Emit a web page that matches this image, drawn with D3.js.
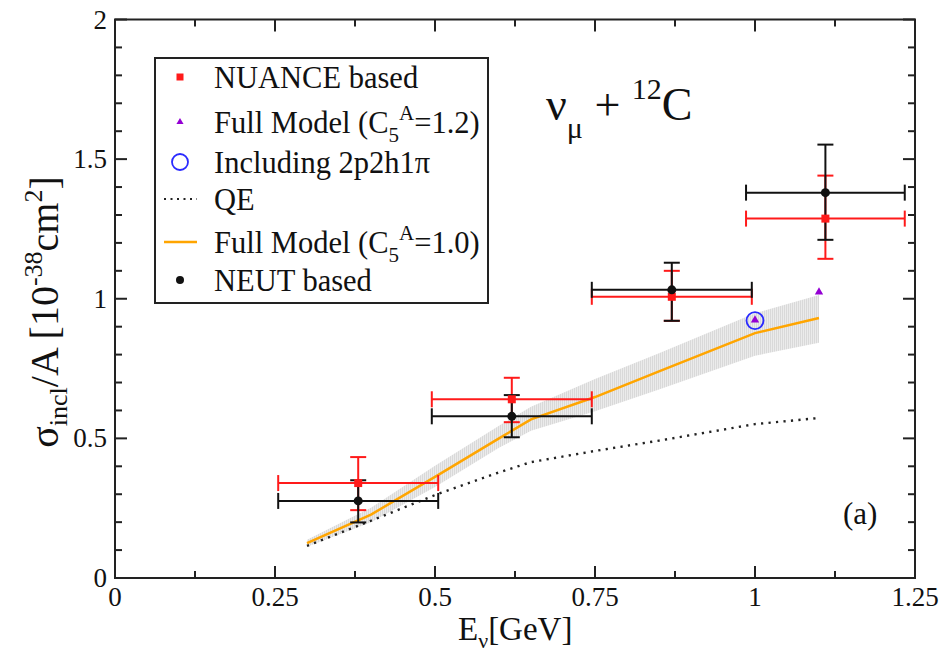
<!DOCTYPE html>
<html>
<head>
<meta charset="utf-8">
<script src="https://cdn.jsdelivr.net/npm/d3@7"></script>
<style>
  html, body { margin: 0; padding: 0; background: #fff; }
  svg text { font-family: "Liberation Serif", "Times New Roman", serif; fill: #111; }
</style>
</head>
<body>
<svg id="chart" width="948" height="656" font-family="Liberation Serif"></svg>
<script>
// Energy bins (GeV) of the flux-averaged measurements
const binCenter = [0.38, 0.62, 0.87, 1.11];
const binLow    = [0.255, 0.495, 0.745, 0.986];
const binHigh   = [0.505, 0.745, 0.995, 1.234];

// NUANCE based extraction: value and error range
const nuance    = [0.34, 0.64, 1.007, 1.287];
const nuanceLo  = [0.243, 0.558, 0.921, 1.143];
const nuanceHi  = [0.433, 0.717, 1.10, 1.441];

// NEUT based extraction: value and error range
const neut      = [0.276, 0.579, 1.032, 1.38];
const neutLo    = [0.199, 0.504, 0.921, 1.211];
const neutHi    = [0.35, 0.655, 1.129, 1.552];

// Model curves
const modelE    = [0.3, 0.4, 0.5, 0.6, 0.65, 0.75, 0.85, 1.0, 1.1];
const fullModel = [0.125, 0.227, 0.362, 0.5, 0.568, 0.648, 0.74, 0.877, 0.931];
const bandLow   = [0.112, 0.2, 0.326, 0.466, 0.527, 0.597, 0.675, 0.796, 0.842];
const bandHigh  = [0.137, 0.252, 0.402, 0.545, 0.613, 0.713, 0.805, 0.948, 1.013];
const qe        = [0.115, 0.205, 0.297, 0.378, 0.415, 0.455, 0.492, 0.551, 0.573];

// Full model with C5A = 1.2 and the 2p2h1pi point
const c5aE      = [1.0, 1.1];
const c5a12     = [0.924, 1.024];
const twoP2hE   = [1.0];
const twoP2h    = [0.922];

// Axis ticks
const xMajor = [0, 0.25, 0.5, 0.75, 1, 1.25];
const xMinor = [0.125, 0.375, 0.625, 0.875, 1.125];
const xTickLabels = ["0", "0.25", "0.5", "0.75", "1", "1.25"];
const yMajor = [0, 0.5, 1, 1.5, 2];
const yMinor = [0.1, 0.2, 0.3, 0.4, 0.6, 0.7, 0.8, 0.9, 1.1, 1.2, 1.3, 1.4, 1.6, 1.7, 1.8, 1.9];
const yTickLabels = ["0", "0.5", "1", "1.5", "2"];

const RED = "#ff1a1a", BLACK = "#111", ORANGE = "#ffa500", PURPLE = "#9400d3", BLUE = "#2a2aff";

const svg = d3.select("#chart");
const L = 115, R = 915, T = 19.5, B = 578;
const x = d3.scaleLinear([0, 1.25], [L, R]);
const y = d3.scaleLinear([0, 2], [B, T]);

// Band texture: fine vertical hatching
const defs = svg.append("defs");
const pat = defs.append("pattern").attr("id", "hatch").attr("patternUnits", "userSpaceOnUse")
  .attr("width", 2).attr("height", 4);
pat.append("rect").attr("width", 2).attr("height", 4).attr("fill", "#ebebeb");
pat.append("rect").attr("width", 1).attr("height", 4).attr("fill", "#d9d9d9");

const plot = svg.append("g");

// Uncertainty band of the full model
const band = modelE.map((e, i) => ({ e, lo: bandLow[i], hi: bandHigh[i] }));
plot.append("path").datum(band)
  .attr("d", d3.area().x(d => x(d.e)).y0(d => y(d.lo)).y1(d => y(d.hi)))
  .attr("fill", "url(#hatch)");

// QE curve (dotted)
plot.append("path").datum(modelE.map((e, i) => [e, qe[i]]))
  .attr("d", d3.line().x(d => x(d[0])).y(d => y(d[1])))
  .attr("fill", "none").attr("stroke", "#222").attr("stroke-width", 2.4)
  .attr("stroke-dasharray", "2.2,5.3");

// Full model curve
plot.append("path").datum(modelE.map((e, i) => [e, fullModel[i]]))
  .attr("d", d3.line().x(d => x(d[0])).y(d => y(d[1])))
  .attr("fill", "none").attr("stroke", ORANGE).attr("stroke-width", 2.5);

// Error bars with caps
function errorBars(vals, lo, hi, color) {
  const g = plot.append("g").attr("stroke", color).attr("stroke-width", 2).attr("fill", "none");
  const cap = 8;
  binCenter.forEach((c, i) => {
    const cx = x(c), cy = y(vals[i]);
    g.append("line").attr("x1", x(binLow[i])).attr("x2", x(binHigh[i])).attr("y1", cy).attr("y2", cy);
    g.append("line").attr("x1", x(binLow[i])).attr("x2", x(binLow[i])).attr("y1", cy - cap).attr("y2", cy + cap);
    g.append("line").attr("x1", x(binHigh[i])).attr("x2", x(binHigh[i])).attr("y1", cy - cap).attr("y2", cy + cap);
    g.append("line").attr("x1", cx).attr("x2", cx).attr("y1", y(lo[i])).attr("y2", y(hi[i]));
    g.append("line").attr("x1", cx - cap).attr("x2", cx + cap).attr("y1", y(lo[i])).attr("y2", y(lo[i]));
    g.append("line").attr("x1", cx - cap).attr("x2", cx + cap).attr("y1", y(hi[i])).attr("y2", y(hi[i]));
  });
}
errorBars(nuance, nuanceLo, nuanceHi, RED);
errorBars(neut, neutLo, neutHi, BLACK);

plot.selectAll(".nuance").data(binCenter).join("rect")
  .attr("x", (d) => x(d) - 4).attr("y", (d, i) => y(nuance[i]) - 4)
  .attr("width", 8).attr("height", 8).attr("fill", RED);
plot.selectAll(".neut").data(binCenter).join("circle")
  .attr("cx", d => x(d)).attr("cy", (d, i) => y(neut[i])).attr("r", 4.5).attr("fill", BLACK);

// C5A = 1.2 triangles
const tri = d3.symbol().type(d3.symbolTriangle).size(30);
plot.selectAll(".c5a").data(c5aE).join("path")
  .attr("d", tri).attr("transform", (d, i) => `translate(${x(d)},${y(c5a12[i])})`)
  .attr("fill", PURPLE);
// 2p2h1pi open circle
plot.selectAll(".twop").data(twoP2hE).join("circle")
  .attr("cx", d => x(d)).attr("cy", (d, i) => y(twoP2h[i])).attr("r", 8.5)
  .attr("fill", "none").attr("stroke", BLUE).attr("stroke-width", 1.8);

// Frame and inward ticks on all four sides
const axes = svg.append("g").attr("stroke", "#222").attr("stroke-width", 2);
axes.append("rect").attr("x", L).attr("y", T).attr("width", R - L).attr("height", B - T).attr("fill", "none");
const MAJ = 12, MIN = 7;
xMajor.concat(xMinor).forEach(v => {
  const len = xMajor.includes(v) ? MAJ : MIN;
  axes.append("line").attr("x1", x(v)).attr("x2", x(v)).attr("y1", B).attr("y2", B - len);
  axes.append("line").attr("x1", x(v)).attr("x2", x(v)).attr("y1", T).attr("y2", T + len);
});
yMajor.concat(yMinor).forEach(v => {
  const len = yMajor.includes(v) ? MAJ : MIN;
  axes.append("line").attr("x1", L).attr("x2", L + len).attr("y1", y(v)).attr("y2", y(v));
  axes.append("line").attr("x1", R).attr("x2", R - len).attr("y1", y(v)).attr("y2", y(v));
});

// Tick labels
svg.append("g").selectAll("text").data(xMajor).join("text")
  .attr("x", d => x(d)).attr("y", 606).attr("text-anchor", "middle")
  .attr("font-size", 27).text((d, i) => xTickLabels[i]);
svg.append("g").selectAll("text").data(yMajor).join("text")
  .attr("x", 107).attr("y", d => y(d) + 9).attr("text-anchor", "end")
  .attr("font-size", 27).text((d, i) => yTickLabels[i]);

// Axis titles
const xt = svg.append("text").attr("x", 458).attr("y", 640).attr("font-size", 33);
xt.append("tspan").text("E");
xt.append("tspan").attr("dy", 8).attr("font-size", 22).text("ν");
xt.append("tspan").attr("dy", -8).text("[GeV]");

const yt = svg.append("text").attr("transform", "translate(58,312) rotate(-90)")
  .attr("text-anchor", "middle").attr("font-size", 40);
yt.append("tspan").text("σ");
yt.append("tspan").attr("dy", 9).attr("font-size", 26).text("incl");
yt.append("tspan").attr("dy", -9).text("/A [10");
yt.append("tspan").attr("dy", -16).attr("font-size", 26).text("-38");
yt.append("tspan").attr("dy", 16).text("cm");
yt.append("tspan").attr("dy", -16).attr("font-size", 26).text("2");
yt.append("tspan").attr("dy", 16).text("]");

// Reaction label
const rt = svg.append("text").attr("x", 546).attr("y", 120).attr("font-size", 46);
rt.append("tspan").text("ν");
rt.append("tspan").attr("dy", 18).attr("font-size", 30).text("μ");
rt.append("tspan").attr("dy", -18).text(" + ");
rt.append("tspan").attr("dy", -21).attr("font-size", 30).text("12");
rt.append("tspan").attr("dy", 21).text("C");

svg.append("text").attr("x", 843).attr("y", 524).attr("font-size", 31).text("(a)");

// Legend
const lg = svg.append("g");
lg.append("rect").attr("x", 155).attr("y", 58).attr("width", 333).attr("height", 245)
  .attr("fill", "#fff").attr("stroke", "#222").attr("stroke-width", 2);
const rows = [77, 122, 162, 199, 242, 280];
const tx = 214, sx = 180;
lg.append("rect").attr("x", sx - 3.5).attr("y", rows[0] - 3.5).attr("width", 7).attr("height", 7).attr("fill", RED);
lg.append("path").attr("d", d3.symbol().type(d3.symbolTriangle).size(22)).attr("transform", `translate(${sx},${rows[1]})`).attr("fill", PURPLE);
lg.append("circle").attr("cx", sx).attr("cy", rows[2]).attr("r", 8).attr("fill", "none").attr("stroke", BLUE).attr("stroke-width", 1.8);
lg.append("line").attr("x1", sx - 16).attr("x2", sx + 17).attr("y1", rows[3]).attr("y2", rows[3])
  .attr("stroke", "#222").attr("stroke-width", 2).attr("stroke-dasharray", "2,4.5");
lg.append("line").attr("x1", sx - 16).attr("x2", sx + 17).attr("y1", rows[4]).attr("y2", rows[4])
  .attr("stroke", ORANGE).attr("stroke-width", 2.5);
lg.append("circle").attr("cx", sx).attr("cy", rows[5]).attr("r", 4).attr("fill", BLACK);

function legendText(row) {
  return lg.append("text").attr("x", tx).attr("y", row + 11).attr("font-size", 30.5);
}
legendText(rows[0]).text("NUANCE based");
function c5Label(row, val) {
  const t = legendText(row);
  t.append("tspan").text("Full Model (C");
  t.append("tspan").attr("dy", 9).attr("font-size", 21).text("5");
  t.append("tspan").attr("dy", -22).attr("font-size", 21).text("A");
  t.append("tspan").attr("dy", 13).text("=" + val + ")");
}
c5Label(rows[1], "1.2");
legendText(rows[2]).text("Including 2p2h1π");
legendText(rows[3]).text("QE");
c5Label(rows[4], "1.0");
legendText(rows[5]).text("NEUT based");
</script>
</body>
</html>
